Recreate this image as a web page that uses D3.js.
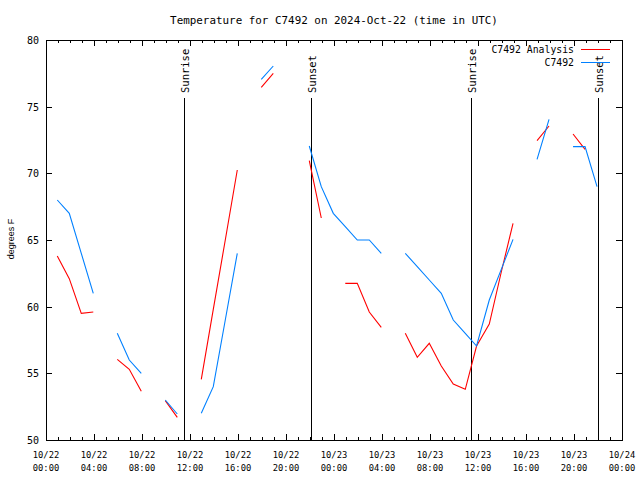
<!DOCTYPE html>
<html><head><meta charset="utf-8">
<script src="https://cdn.jsdelivr.net/npm/d3@7"></script>
<style>body{margin:0;background:#fff}svg{display:block}</style>
</head><body>
<script>
// observation times: hours after 2024-10-22 00:00 UTC (readings at about :56)
const obsHours = [0.94,1.94,2.94,3.94,4.94,5.94,6.94,7.94,8.94,9.94,10.94,11.94,12.94,13.94,14.94,15.94,16.94,17.94,18.94,19.94,20.94,21.94,22.94,23.94,24.94,25.94,26.94,27.94,28.94,29.94,30.94,31.94,32.94,33.94,34.94,35.88,36.94,37.94,38.92,39.92,40.92,41.92,42.92,43.92,44.92,45.92];
const analysisValues = [63.8,62.1,59.5,59.6,null,56.05,55.3,53.65,null,52.95,51.7,null,54.55,59.8,65.0,70.25,null,76.45,77.5,null,null,70.95,66.65,null,61.75,61.75,59.6,58.45,null,58.0,56.2,57.25,55.55,54.2,53.8,57.05,58.7,62.6,66.25,null,72.45,73.55,null,72.95,71.8,null];
const stationValues = [68,67,64,61,null,58,56,55,null,53,51.95,null,52,54,59,64,null,77.05,78.05,null,null,72.05,69,67,66,65,65,64,null,64,63,62,61,59,58.0,57.05,60.5,62.8,65.05,null,71.05,74.05,null,72,72,69];
const seriesNames = ["C7492 Analysis","C7492"];
const sunEvents = [11.5,22.08,35.42,46.0];
const sunLabels = ["Sunrise","Sunset","Sunrise","Sunset"];
const yTicks = [50,55,60,65,70,75,80];
const xTickHours = [0,4,8,12,16,20,24,28,32,36,40,44,48];
const titleText = "Temperature for C7492 on 2024-Oct-22 (time in UTC)";
const yLabel = "degrees F";

const W=640,H=480, L=46,R=622,T=40,B=440;
const start = Date.UTC(2024,9,22,0,0);
const toDate = h => new Date(start + h*3600000);
const x = d3.scaleUtc().domain([toDate(0),toDate(48)]).range([L,R]);
const y = d3.scaleLinear().domain([50,80]).range([B,T]);
const mono = "'DejaVu Sans Mono', monospace";

const svg = d3.select("body").append("svg").attr("width",W).attr("height",H);

// frame
svg.append("rect").attr("x",L).attr("y",T).attr("width",R-L).attr("height",B-T)
  .attr("fill","none").attr("stroke","#000").attr("shape-rendering","crispEdges");

// y axis ticks (left + mirror right)
const gy = svg.append("g").attr("transform",`translate(${L},0)`)
  .call(d3.axisLeft(y).tickValues(yTicks).tickSize(-6).tickPadding(14).tickFormat(d3.format("d")));
const gyr = svg.append("g").attr("transform",`translate(${R},0)`)
  .call(d3.axisRight(y).tickValues(yTicks).tickSize(-6).tickFormat(""));
// x axis
const fmtDate = d3.utcFormat("%m/%d"), fmtTime = d3.utcFormat("%H:%M");
const xMajor = xTickHours.map(toDate);
const xMinor = d3.utcHour.range(toDate(0),toDate(48)).filter(d=>d.getUTCHours()%4!==0);
const gx = svg.append("g").attr("transform",`translate(0,${B})`)
  .call(d3.axisBottom(x).tickValues(xMajor).tickSize(-6).tickFormat(""));
svg.append("g").attr("transform",`translate(0,${T})`)
  .call(d3.axisTop(x).tickValues(xMajor).tickSize(-6).tickFormat(""));
svg.append("g").attr("transform",`translate(0,${B})`)
  .call(d3.axisBottom(x).tickValues(xMinor).tickSize(-3).tickFormat(""));
svg.append("g").attr("transform",`translate(0,${T})`)
  .call(d3.axisTop(x).tickValues(xMinor).tickSize(-3).tickFormat(""));
svg.selectAll(".domain").remove();
svg.selectAll(".tick line").attr("stroke","#000").attr("shape-rendering","crispEdges");
gy.selectAll("text").attr("font-family",mono).attr("font-size","10px").attr("fill","#000")
  .attr("x",-7).attr("dy","0.35em");

// x tick labels (two lines)
const xl = svg.append("g").attr("font-family",mono).attr("font-size","8.8px").attr("text-anchor","middle");
xMajor.forEach(d=>{
  const t = xl.append("text").attr("x",x(d)).attr("y",458);
  t.append("tspan").attr("x",x(d)).text(fmtDate(d));
  t.append("tspan").attr("x",x(d)).attr("dy",12.5).text(fmtTime(d));
});

// sunrise/sunset lines
sunEvents.forEach((h,i)=>{
  const xx = Math.round(x(toDate(h)))+0.5;
  svg.append("line").attr("x1",xx).attr("x2",xx).attr("y1",98).attr("y2",B)
    .attr("stroke","#000").attr("shape-rendering","crispEdges");
  svg.append("text").attr("transform",`translate(${xx+4},93) rotate(-90)`)
    .attr("font-family",mono).attr("font-size","10.5px").text(sunLabels[i]);
});

// series
const line = d3.line().defined(d=>d.v!==null).x(d=>x(toDate(d.t))).y(d=>y(d.v));
const colors = ["#ff0000","#0080ff"];
[analysisValues,stationValues].forEach((vals,k)=>{
  const data = obsHours.map((t,i)=>({t,v:vals[i]}));
  svg.append("path").datum(data).attr("d",line).attr("fill","none")
    .attr("stroke",colors[k]).attr("stroke-width",1.1);
});

// legend
[0,1].forEach(k=>{
  const ly = 49 + k*13;
  svg.append("text").attr("x",574).attr("y",ly+4).attr("text-anchor","end")
    .attr("font-family",mono).attr("font-size","9.8px").text(seriesNames[k]);
  svg.append("line").attr("x1",581).attr("x2",610).attr("y1",ly+0.5).attr("y2",ly+0.5)
    .attr("stroke",colors[k]).attr("shape-rendering","crispEdges");
});

// title
svg.append("text").attr("x",334).attr("y",24).attr("text-anchor","middle")
  .attr("font-family",mono).attr("font-size","10.9px").text(titleText);
// y label
svg.append("text").attr("transform","translate(14,239) rotate(-90)").attr("text-anchor","middle")
  .attr("font-family","'Liberation Sans', sans-serif").attr("font-size","9px").text(yLabel);
</script>
</body></html>
